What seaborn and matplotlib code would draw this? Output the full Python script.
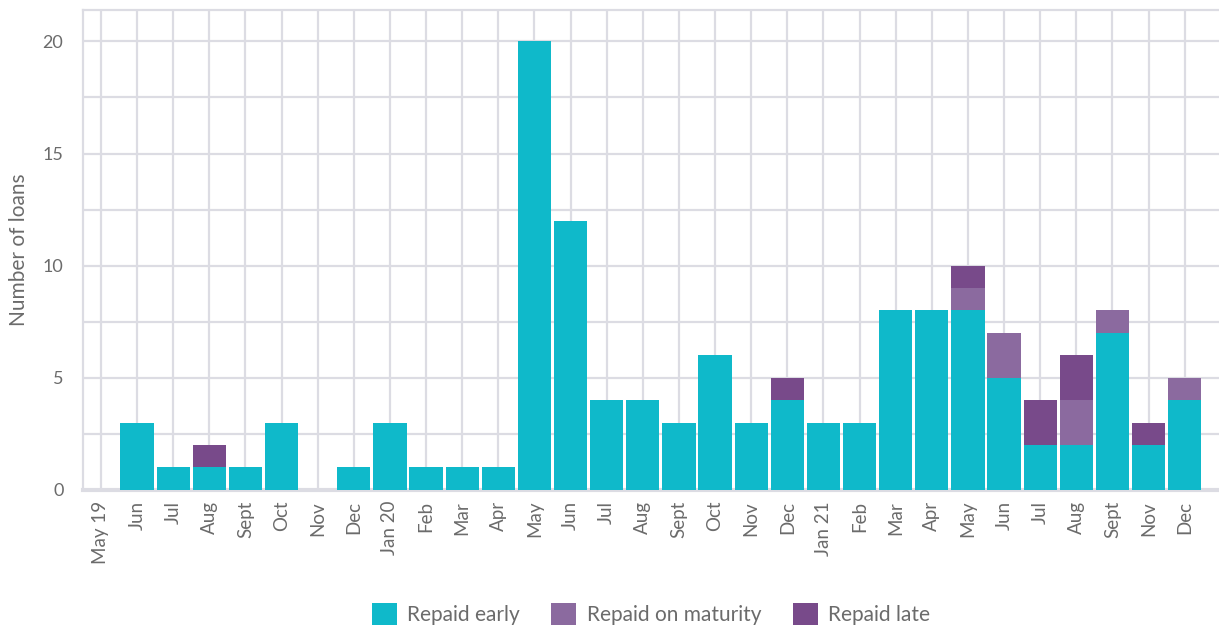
import matplotlib
matplotlib.use("Agg")
import matplotlib.pyplot as plt
from matplotlib.patches import Patch
from matplotlib.ticker import MultipleLocator
import seaborn as sns
import pandas as pd

months = ["May 19", "Jun", "Jul", "Aug", "Sept", "Oct", "Nov", "Dec", "Jan 20", "Feb",
          "Mar", "Apr", "May", "Jun", "Jul", "Aug", "Sept", "Oct", "Nov", "Dec",
          "Jan 21", "Feb", "Mar", "Apr", "May", "Jun", "Jul", "Aug", "Sept", "Nov", "Dec"]
repaid_early = [0, 3, 1, 1, 1, 3, 0, 1, 3, 1, 1, 1, 20, 12, 4, 4, 3, 6, 3, 4,
                3, 3, 8, 8, 8, 5, 2, 2, 7, 2, 4]
repaid_maturity = [0, 0, 0, 0, 0, 0, 0, 0, 0, 0, 0, 0, 0, 0, 0, 0, 0, 0, 0, 0,
                   0, 0, 0, 0, 1, 2, 0, 2, 1, 0, 1]
repaid_late = [0, 0, 0, 1, 0, 0, 0, 0, 0, 0, 0, 0, 0, 0, 0, 0, 0, 0, 0, 1,
               0, 0, 0, 0, 1, 0, 2, 2, 0, 1, 0]
statuses = ["Repaid early", "Repaid on maturity", "Repaid late"]
colors = ["#0fb9ca", "#8b6a9f", "#784a8a"]

rows = []
for name, vals in zip(statuses, [repaid_early, repaid_maturity, repaid_late]):
    for i, v in enumerate(vals):
        rows.append({"idx": i, "status": name, "count": v})
df = pd.DataFrame(rows)

grid_c = "#dcdce3"
text_c = "#6b6b6b"

sns.set_style("white")
plt.rcParams["font.family"] = ["Lato", "DejaVu Sans"]

fig = plt.figure(figsize=(12.19, 6.28), dpi=100)
ax = fig.add_axes([0.068, 0.22, 0.932, 0.764])

# histplot stacks the last hue level at the bottom
sns.histplot(data=df, x="idx", weights="count", hue="status",
             hue_order=statuses[::-1], palette=dict(zip(statuses, colors)),
             multiple="stack", discrete=True, shrink=0.92, alpha=1,
             linewidth=0, edgecolor="none", legend=False, ax=ax, zorder=3)

ax.set_xlim(-0.5, 30.95)
ax.set_ylim(0, 21.4)
ax.set_xticks(range(len(months)))
ax.set_xticklabels(months, rotation=90, fontsize=13.5, color=text_c)
ax.yaxis.set_major_locator(MultipleLocator(5))
ax.yaxis.set_minor_locator(MultipleLocator(2.5))
ax.tick_params(axis="y", labelsize=13, labelcolor=text_c, length=0, pad=14)
ax.tick_params(axis="x", length=0, pad=8)
ax.tick_params(which="minor", length=0)
ax.grid(True, which="both", color=grid_c, linewidth=1.6, zorder=0)
ax.set_axisbelow(True)
for side in ["left", "top", "right"]:
    ax.spines[side].set_color(grid_c)
    ax.spines[side].set_linewidth(1.6)
ax.spines["right"].set_visible(False)
ax.spines["bottom"].set_color(grid_c)
ax.spines["bottom"].set_linewidth(3)
ax.set_xlabel("")
ax.set_ylabel("Number of loans", fontsize=15, color=text_c, labelpad=10)

handles = [Patch(facecolor=c, edgecolor="none") for c in colors]
fig.legend(handles, statuses, loc="center", bbox_to_anchor=(0.534, 0.022),
           ncol=3, frameon=False, fontsize=15, labelcolor=text_c,
           handlelength=1.2, handleheight=1.2, handletextpad=0.5, columnspacing=1.5)

fig.savefig("out.png", dpi=100)
